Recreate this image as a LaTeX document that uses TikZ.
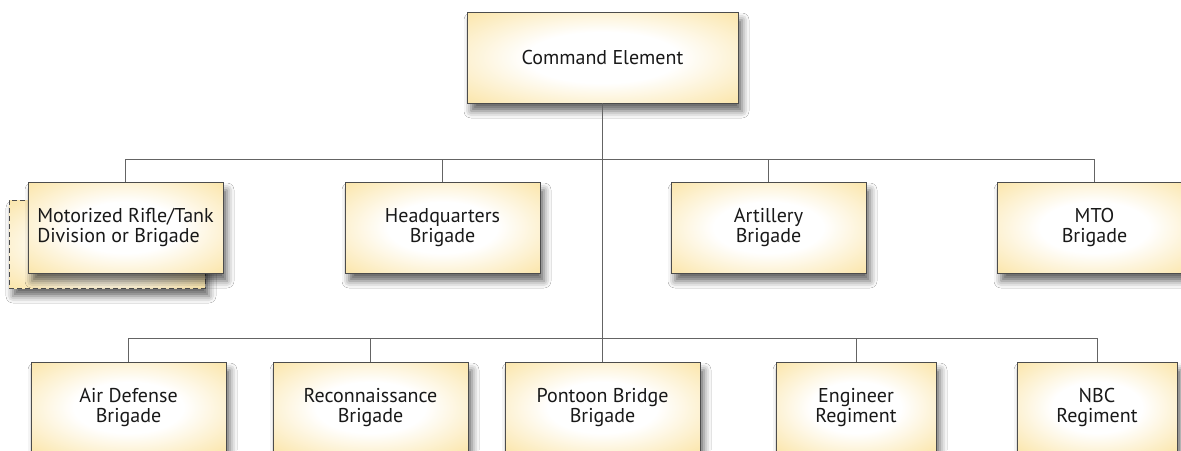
\documentclass[tikz,border=0pt]{standalone}
\usepackage{fontspec}
\setmainfont{PT Sans}
\usetikzlibrary{shadows.blur}

\definecolor{boxyellow}{RGB}{250,224,152}
\definecolor{linegray}{RGB}{100,100,100}
\pgfdeclareradialshading{boxglow}{\pgfpoint{0bp}{0bp}}{color(0bp)=(white); color(14bp)=(white); color(40bp)=(boxyellow); color(50bp)=(boxyellow)}

\tikzset{
  unit/.style={draw=black!70, line width=0.8pt, shading=boxglow, align=center, inner sep=0pt,
    font=\fontsize{20}{20}\selectfont, text=black!90, minimum width=195pt, minimum height=91pt,
    blur shadow={shadow xshift=4pt, shadow yshift=-8pt, shadow blur radius=7pt, shadow opacity=60}},
  link/.style={draw=linegray, line width=0.9pt}
}

\begin{document}
\begin{tikzpicture}[x=1pt,y=-1pt]
\path[fill=white] (0,0) rectangle (1181,450);
\useasboundingbox (0,0) rectangle (1181,450);

\node[unit, minimum width=271pt] (cmd) at (602.5,57.5) {Command Element};

\node[unit, dash pattern=on 5pt off 3pt, minimum width=196pt, minimum height=88pt] (mrtback) at (107,244) {};
\node[unit, align=left] (mrt) at (125.5,227.5) {Motorized Rifle/Tank\\Division or Brigade};
\node[unit] (hq) at (442.5,227.5) {Headquarters\\Brigade};
\node[unit] (art) at (768.5,227.5) {Artillery\\Brigade};
\node[unit] (mto) at (1094.5,227.5) {MTO\\Brigade};

\node[unit] (ad) at (128.5,407.5) {Air Defense\\Brigade};
\node[unit] (rec) at (370.5,407.5) {Reconnaissance\\Brigade};
\node[unit] (pb) at (602.5,407.5) {Pontoon Bridge\\Brigade};
\node[unit, minimum width=160pt] (eng) at (856,407.5) {Engineer\\Regiment};
\node[unit, minimum width=160pt] (nbc) at (1097,407.5) {NBC\\Regiment};

\coordinate (bus1) at (0,159);
\coordinate (bus2) at (0,338);

\draw[link] (cmd) -- (pb);

\draw[link] (mrt.north) |- (bus1 -| mto) -- (mto.north);
\foreach \n in {hq,art}
  \draw[link] (\n.north) -- (\n.north |- bus1);

\draw[link] (ad.north) |- (bus2 -| nbc) -- (nbc.north);
\foreach \n in {rec,eng}
  \draw[link] (\n.north) -- (\n.north |- bus2);

\end{tikzpicture}
\end{document}
